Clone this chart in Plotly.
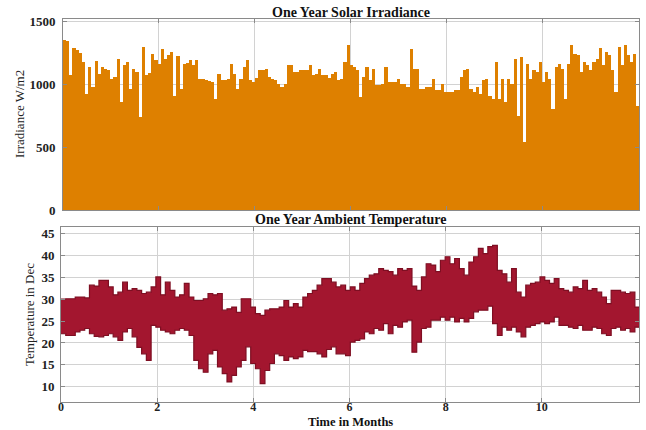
import plotly.graph_objects as go

# Daily-peak solar irradiance (W/m2), one value per 2-day step
irradiance = [
    1350, 1340, 1070, 1290, 1270, 1250, 1176, 920, 1136, 980,
    1185, 1083, 1136, 1120, 1110, 1043, 1060, 1200, 860, 1150,
    1176, 963, 1123, 1100, 740, 1297, 1070, 1090, 1243, 1190,
    1163, 1283, 1200, 1230, 1257, 910, 1225, 960, 1163, 1170,
    1190, 1150, 1190, 1043, 1040, 1030, 1025, 1020, 882, 1083,
    1030, 1030, 1043, 1163, 1083, 963, 1043, 1136, 1190, 1030,
    1016, 1050, 1110, 1110, 1123, 1060, 1043, 1030, 1000, 976,
    1000, 1150, 1150, 1096, 1096, 1110, 1110, 1110, 1150, 1070,
    1080, 1123, 1070, 1070, 1050,
    1080, 1096, 1030, 1040, 1176, 1310, 1150, 1140, 1110, 896,
    1056, 1136, 1030, 1123, 990, 990, 1000, 1136, 1016, 1016,
    1016, 1040, 1003, 1003, 976, 1283, 1123, 1123, 963, 963,
    976, 976, 1043, 950, 950, 1003, 936, 936, 936, 950,
    950, 1056, 1110, 1123, 963, 936, 976, 922, 1030, 1040,
    909, 882, 1176, 882, 1043, 856, 1043, 1003, 1203, 749,
    1217, 540, 1163, 1043, 1110, 1096, 1176, 1016, 1096, 1043,
    802, 1136, 1163, 1123, 882, 1163, 1310, 1243, 1230, 1096,
    1176, 1150, 1110, 1176, 1203, 1290, 1150, 1257, 1230, 1110,
    936, 1297, 1150, 1310, 1230, 1176, 1243, 829,
]

# Ambient temperature daily max / min envelopes, one value per 3-day step
temp_max = [
    30.0, 30.1, 30.1, 30.5, 30.5, 30.3, 33.2, 33.0, 34.3, 34.3,
    32.8, 31.0, 31.6, 33.9, 32.0, 32.4, 32.0, 31.3, 31.6, 32.8,
    35.1, 31.0, 33.9, 32.0, 30.5, 31.0, 33.6, 30.5, 29.7, 29.7,
    30.1, 31.3, 31.0, 31.3, 27.5, 27.8, 28.2, 27.0, 30.1, 30.1,
    28.2, 26.7, 26.3, 27.5, 27.8, 27.8, 28.2, 29.7, 28.2, 29.0,
    28.2, 30.5, 31.3, 32.0, 33.2, 34.7, 34.7, 33.9, 32.8, 33.2,
    32.0, 32.8, 32.0, 33.6, 34.7, 35.5, 35.8, 37.0, 36.6, 36.3,
    35.5, 37.0, 36.6, 37.0, 33.0, 32.0, 35.1, 38.1, 37.8, 36.3,
    38.9, 39.7, 38.1, 39.3, 37.0, 35.5, 38.5, 39.7, 41.6, 40.4,
    42.0, 42.3, 36.6, 35.8, 33.9, 37.0, 31.6, 30.5, 33.2, 33.6,
    33.9, 35.1, 34.3, 33.6, 34.7, 32.4, 32.0, 31.6, 32.8, 32.4,
    34.3, 32.0, 32.4, 31.6, 30.5, 29.0, 32.0, 32.0, 31.6, 31.3,
    31.6, 28.2,
]
temp_min = [
    22.1, 21.7, 21.7, 22.5, 22.9, 23.3, 22.1, 21.5, 21.4, 21.7,
    22.1, 21.4, 20.6, 22.5, 23.3, 21.4, 19.0, 17.5, 16.0, 24.0,
    23.6, 22.9, 22.5, 22.1, 22.9, 23.3, 22.9, 21.7, 16.0, 14.1,
    13.3, 17.5, 18.3, 14.5, 13.0, 11.1, 12.6, 14.5, 16.0, 19.1,
    15.3, 14.1, 10.7, 13.7, 15.3, 17.5, 17.1, 16.0, 16.8, 16.4,
    16.8, 18.3, 18.0, 18.0, 17.5, 16.8, 18.5, 19.1, 17.5, 17.5,
    17.1, 20.2, 20.6, 20.9, 22.5, 22.1, 23.3, 22.9, 24.4, 22.1,
    24.0, 23.6, 24.8, 25.2, 17.9, 20.2, 23.3, 23.6, 25.2, 25.2,
    25.9, 25.2, 25.9, 24.8, 25.6, 24.8, 25.6, 27.1, 27.5, 27.5,
    28.4, 24.4, 21.7, 23.6, 22.9, 23.6, 22.5, 21.4, 23.6, 24.0,
    24.4, 24.8, 24.4, 24.8, 25.9, 24.0, 24.0, 23.6, 23.3, 24.0,
    22.9, 22.9, 23.6, 23.3, 22.1, 21.7, 23.3, 23.6, 22.9, 23.3,
    22.5, 23.6,
]

x_ticks = [0, 2, 4, 6, 8, 10]
irr_ticks = [0, 500, 1000, 1500]
temp_ticks = [10, 15, 20, 25, 30, 35, 40, 45]

DAYS_PER_MONTH = 365 / 12.0
irr_step = 2
tmp_step = 3

irr_x = [(irr_step * i + irr_step / 2) / DAYS_PER_MONTH for i in range(len(irradiance))]
tmp_x = [tmp_step * j / DAYS_PER_MONTH for j in range(len(temp_max))]
tmp_x_end = tmp_step * len(temp_max) / DAYS_PER_MONTH
tmp_x_full = tmp_x + [tmp_x_end]
tmax_full = temp_max + [temp_max[-1]]
tmin_full = temp_min + [temp_min[-1]]

ORANGE = "#DE8000"
RED = "#A3162F"
RED_EDGE = "#7E0E22"
FONT = "Liberation Serif"

fig = go.Figure()
fig.add_trace(go.Bar(
    x=irr_x, y=irradiance, width=irr_step / DAYS_PER_MONTH,
    marker=dict(color=ORANGE, line=dict(width=0)),
    xaxis="x", yaxis="y", showlegend=False,
))
fig.add_trace(go.Scatter(
    x=tmp_x_full, y=tmin_full, mode="lines",
    line=dict(color=RED_EDGE, width=1.2, shape="hv"),
    xaxis="x2", yaxis="y2", showlegend=False,
))
fig.add_trace(go.Scatter(
    x=tmp_x_full, y=tmax_full, mode="lines", fill="tonexty",
    fillcolor=RED, line=dict(color=RED_EDGE, width=1.2, shape="hv"),
    xaxis="x2", yaxis="y2", showlegend=False,
))

W, H = 646, 430
axis_common = dict(
    showline=True, linecolor="#8a8a8a", linewidth=1, mirror="ticks",
    showgrid=True, gridcolor="#d2d2d2", gridwidth=1, zeroline=False,
    ticks="inside", ticklen=4, tickcolor="#8a8a8a", automargin=False,
    tickfont=dict(family=FONT, size=13, color="#222222", weight="bold"),
)

fig.update_layout(
    width=W, height=H,
    margin=dict(l=0, r=0, t=0, b=0),
    paper_bgcolor="white", plot_bgcolor="white",
    bargap=0,
    xaxis=dict(domain=[63 / W, 639 / W], range=[0, 12.02], anchor="y",
               tickvals=x_ticks, showticklabels=False, **axis_common),
    yaxis=dict(domain=[1 - 210 / H, 1 - 19 / H], range=[0, 1518], anchor="x",
               tickvals=irr_ticks, ticklabelstandoff=4, **axis_common),
    xaxis2=dict(domain=[61 / W, 639 / W], range=[0, 12.02], anchor="y2",
                tickvals=x_ticks, ticklabelstandoff=-6, **axis_common),
    yaxis2=dict(domain=[1 - 402 / H, 1 - 227 / H], range=[6.5, 46.5], anchor="x2",
                tickvals=temp_ticks, ticklabelstandoff=3, **axis_common),
)
fig.layout.xaxis2.tickfont.size = 12

def label(text, x, y, size=13, angle=0, color="#111111"):
    fig.add_annotation(text=text, x=x / W, y=1 - y / H, xref="paper", yref="paper",
                       showarrow=False, xanchor="center", yanchor="middle",
                       textangle=angle, font=dict(family=FONT, size=size, color=color))

label("<b>One Year Solar Irradiance</b>", 351, 12, size=14)
label("<b>One Year Ambient Temperature</b>", 350, 219, size=14)
label("<b>Time in Months</b>", 351, 421.5, size=12.5)
label("Irradiance W/m2", 20, 114, size=13, angle=-90, color="#222222")
label("Temperature in Dec", 29, 315, size=13, angle=-90, color="#222222")

fig.write_html("out.html")
